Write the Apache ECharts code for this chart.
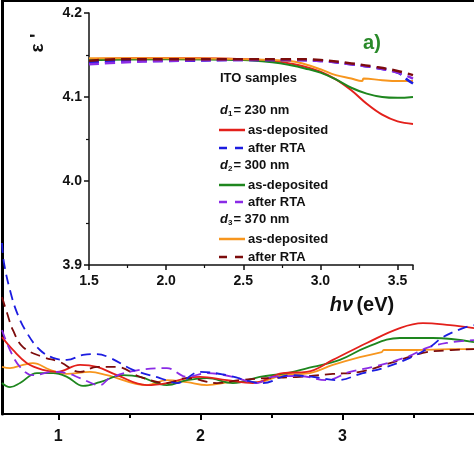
<!DOCTYPE html>
<html><head><meta charset="utf-8">
<script src="https://cdn.jsdelivr.net/npm/echarts@6/dist/echarts.min.js"></script>
<style>html,body{margin:0;padding:0;background:#fff}#c{width:474px;height:474px}</style>
</head><body><div id="c"></div>
<script>
// ---- Main chart data: x = photon energy (eV), y = arbitrary units (axis values cropped) ----
const mainTicks = [1, 2, 3];
const mainMinorTicks = [1.5, 2.5, 3.5];
const d1AsDep = [[0.604,18.6],[0.681,15.5],[0.780,12.3],[0.892,10.7],[0.991,10.2],[1.153,11.9],[1.272,11.4],[1.413,9.4],[1.624,7.0],[1.764,7.5],[1.905,8.7],[1.996,9.0],[2.186,8.2],[2.370,7.5],[2.580,9.9],[2.749,10.2],[2.932,13.1],[3.171,17.2],[3.403,20.8],[3.565,22.0],[3.757,21.5],[3.925,20.8]];
const d1Rta = [[0.604,41.4],[0.618,36.6],[0.660,30.0],[0.710,24.5],[0.780,19.6],[0.871,15.5],[0.963,13.6],[1.061,13.1],[1.174,14.3],[1.272,14.5],[1.364,13.6],[1.525,10.7],[1.715,8.7],[1.835,7.5],[1.996,10.2],[2.186,9.4],[2.440,7.5],[2.629,9.4],[2.791,9.0],[2.960,8.2],[3.143,9.9],[3.283,11.1],[3.474,13.6],[3.614,16.2],[3.706,18.6],[3.848,20.8],[3.925,21.5]];
const d2AsDep = [[0.604,7.5],[0.660,6.5],[0.731,7.5],[0.850,9.9],[0.963,9.9],[1.061,9.0],[1.174,6.8],[1.293,7.7],[1.455,9.4],[1.575,9.0],[1.764,7.0],[1.905,8.2],[2.046,8.7],[2.229,7.5],[2.418,9.0],[2.608,9.9],[2.791,11.4],[2.981,13.1],[3.171,16.2],[3.403,18.4],[3.635,18.4],[3.925,17.4]];
const d2Rta = [[0.604,20.3],[0.660,15.5],[0.731,11.4],[0.822,9.4],[0.963,10.2],[1.061,9.9],[1.153,8.7],[1.293,7.0],[1.364,8.7],[1.575,10.7],[1.764,11.1],[1.905,9.0],[2.046,9.9],[2.229,9.0],[2.398,7.5],[2.510,9.0],[2.700,9.2],[2.883,8.2],[3.051,10.2],[3.213,11.4],[3.452,13.8],[3.593,16.0],[3.734,17.2],[3.925,17.9]];
const d3AsDep = [[0.604,11.4],[0.660,11.1],[0.752,11.9],[0.822,12.3],[0.942,10.7],[1.061,9.7],[1.223,10.2],[1.342,9.4],[1.624,7.0],[1.764,8.2],[1.905,7.7],[2.046,7.0],[2.229,7.7],[2.398,7.7],[2.580,9.4],[2.770,9.9],[2.932,11.9],[3.122,13.8],[3.276,15.0],[3.290,15.5],[3.523,15.5],[3.757,15.7],[3.925,15.7]];
const d3Rta = [[0.604,28.3],[0.639,24.5],[0.681,20.3],[0.752,16.2],[0.892,13.8],[1.012,12.6],[1.153,10.2],[1.272,11.4],[1.413,11.4],[1.575,9.0],[1.764,7.5],[1.905,8.7],[2.116,7.5],[2.278,8.2],[2.468,8.7],[2.700,9.0],[2.932,9.7],[3.122,10.2],[3.333,12.3],[3.565,14.8],[3.685,15.3],[3.925,15.7]];

// ---- Inset data: x = hv (eV), y = epsilon' ----
const insD1AsDep = [[1.5,4.145],[1.8,4.146],[2.2,4.146],[2.5,4.145],[2.7,4.143],[2.8,4.140],[2.9,4.136],[3.0,4.130],[3.1,4.121],[3.2,4.108],[3.3,4.092],[3.4,4.079],[3.5,4.071],[3.6,4.068]];
const insD1Rta = [[1.5,4.141],[1.7,4.143],[2.0,4.143],[2.5,4.144],[2.8,4.144],[3.0,4.143],[3.2,4.139],[3.35,4.135],[3.5,4.129],[3.56,4.121],[3.6,4.116]];
const insD2AsDep = [[1.5,4.144],[2.0,4.145],[2.5,4.144],[2.7,4.141],[2.8,4.138],[2.9,4.134],[3.0,4.129],[3.1,4.121],[3.2,4.111],[3.3,4.104],[3.4,4.100],[3.5,4.099],[3.6,4.100]];
const insD2Rta = [[1.5,4.139],[1.7,4.141],[2.0,4.143],[2.5,4.144],[2.8,4.144],[3.0,4.143],[3.2,4.139],[3.35,4.135],[3.5,4.129],[3.6,4.122]];
const insD3AsDep = [[1.5,4.146],[2.0,4.146],[2.5,4.145],[2.8,4.143],[2.9,4.139],[3.0,4.133],[3.1,4.126],[3.2,4.122],[3.27,4.119],[3.28,4.122],[3.4,4.120],[3.5,4.119],[3.6,4.119]];
const insD3Rta = [[1.5,4.143],[1.7,4.145],[2.0,4.145],[2.5,4.145],[2.8,4.145],[3.0,4.144],[3.2,4.140],[3.35,4.136],[3.5,4.131],[3.6,4.126]];

const C = {red:'#e3201b', blue:'#1c1ce0', green:'#1e861e', purple:'#8a2be6', orange:'#f7961e', brown:'#7c0c0c'};
const F = 'Liberation Sans, Arial, sans-serif';
const dash = [10, 6];

function line(data, color, dashed, xi, yi, w) {
  return {type:'line', data, xAxisIndex:xi, yAxisIndex:yi, showSymbol:false, smooth:0.4,
    lineStyle:{color, width:w, type: dashed ? dash : 'solid'}, silent:true, animation:false};
}

const chart = echarts.init(document.getElementById('c'), null, {renderer:'canvas'});
const legendX0 = 219, legendX1 = 245;
const legendItems = [
  {y:130, c:C.red, d:false, t:'as-deposited'},
  {y:148, c:C.blue, d:true, t:'after RTA'},
  {y:185, c:C.green, d:false, t:'as-deposited'},
  {y:202, c:C.purple, d:true, t:'after RTA'},
  {y:239, c:C.orange, d:false, t:'as-deposited'},
  {y:257, c:C.brown, d:true, t:'after RTA'}
];
const graphics = [];
legendItems.forEach(it => {
  graphics.push({type:'line', shape:{x1:legendX0, y1:it.y, x2:legendX1, y2:it.y},
    style:{stroke:it.c, lineWidth:2.5, lineDash: it.d ? [8,8] : null}});
  graphics.push({type:'text', x:248, y:it.y, style:{text:it.t, font:'bold 13px '+F, fill:'#111', textVerticalAlign:'middle'}});
});
graphics.push({type:'text', x:220, y:78, style:{text:'ITO samples', font:'bold 13px '+F, fill:'#111', textVerticalAlign:'middle'}});
[['1','230',110],['2','300',165],['3','370',219]].forEach(([s,v,y]) => {
  graphics.push({type:'text', x:220, y:y, style:{
    text:'{i|d}{s|'+s+'}{n|= '+v+' nm}', textVerticalAlign:'middle', fill:'#111',
    rich:{i:{font:'italic bold 13px '+F, fill:'#111'}, s:{font:'bold 8px '+F, fill:'#111', padding:[8,1,0,0]}, n:{font:'bold 13px '+F, fill:'#111'}}}});
});
graphics.push({type:'text', x:372, y:43, style:{text:'a)', font:'bold 20px '+F, fill:'#2a8a2a', textAlign:'center', textVerticalAlign:'middle'}});
graphics.push({type:'text', x:362, y:305, style:{text:'{i|hν} {n|(eV)}', textAlign:'center', textVerticalAlign:'middle',
  rich:{i:{font:'italic bold 20px '+F, fill:'#111'}, n:{font:'bold 20px '+F, fill:'#111'}}}});
graphics.push({type:'text', x:38, y:43, rotation:Math.PI/2, style:{text:'ε \'', font:'bold 19px '+F, fill:'#111', textAlign:'center', textVerticalAlign:'middle'}});

const axisLbl = {fontFamily:F, fontWeight:'bold', color:'#111'};
chart.setOption({
  animation:false,
  backgroundColor:'#fff',
  grid:[
    {left:2, top:1, right:0, bottom:60},
    {left:89, top:13, width:324, height:252}
  ],
  xAxis:[
    {gridIndex:0, type:'value', min:0.604, max:3.925, position:'bottom',
      axisLine:{show:true, lineStyle:{color:'#000', width:2}},
      axisTick:{show:true, inside:false, length:6, lineStyle:{color:'#000', width:2}, customValues:mainTicks},
      axisLabel:Object.assign({fontSize:16, margin:15, customValues:mainTicks}, axisLbl),
      splitLine:{show:false}},
    {gridIndex:0, type:'value', min:0.604, max:3.925, position:'bottom',
      axisLine:{show:false},
      axisTick:{show:true, length:4, lineStyle:{color:'#000', width:2}, customValues:mainMinorTicks},
      axisLabel:{show:false}, splitLine:{show:false}},
    {gridIndex:0, type:'value', min:0.604, max:3.925, position:'top',
      axisLine:{show:true, lineStyle:{color:'#000', width:2}},
      axisTick:{show:false}, axisLabel:{show:false}, splitLine:{show:false}},
    {gridIndex:1, type:'value', min:1.5, max:3.6, interval:0.5,
      axisLine:{show:true, onZero:false, lineStyle:{color:'#111', width:1.5}},
      axisTick:{show:true, length:5, lineStyle:{color:'#111', width:1.5}},
      minorTick:{show:true, splitNumber:2, length:3, lineStyle:{color:'#111', width:1.2}},
      axisLabel:Object.assign({fontSize:14, margin:9, formatter:v=>v.toFixed(1), showMaxLabel:false}, axisLbl),
      splitLine:{show:false}}
  ],
  yAxis:[
    {gridIndex:0, type:'value', min:0, max:100,
      axisLine:{show:true, lineStyle:{color:'#000', width:3}},
      axisTick:{show:false}, axisLabel:{show:false}, splitLine:{show:false}},
    {gridIndex:1, type:'value', min:3.9, max:4.2, interval:0.1,
      axisLine:{show:true, onZero:false, lineStyle:{color:'#111', width:1.5}},
      axisTick:{show:true, length:5, lineStyle:{color:'#111', width:1.5}},
      minorTick:{show:true, splitNumber:2, length:3, lineStyle:{color:'#111', width:1.2}},
      axisLabel:Object.assign({fontSize:14, margin:7, formatter:v=>v.toFixed(1)}, axisLbl),
      splitLine:{show:false}}
  ],
  series:[
    line(d3AsDep, C.orange, false, 0, 0, 1.8),
    line(d2AsDep, C.green, false, 0, 0, 1.8),
    line(d1AsDep, C.red, false, 0, 0, 1.8),
    line(d3Rta, C.brown, true, 0, 0, 1.8),
    line(d2Rta, C.purple, true, 0, 0, 1.8),
    line(d1Rta, C.blue, true, 0, 0, 1.8),
    line(insD1AsDep, C.red, false, 3, 1, 2),
    line(insD2AsDep, C.green, false, 3, 1, 2),
    line(insD3AsDep, C.orange, false, 3, 1, 2),
    line(insD1Rta, C.blue, true, 3, 1, 2.5),
    line(insD2Rta, C.purple, true, 3, 1, 2.5),
    line(insD3Rta, C.brown, true, 3, 1, 2.5)
  ],
  graphic:graphics
});
</script></body></html>
